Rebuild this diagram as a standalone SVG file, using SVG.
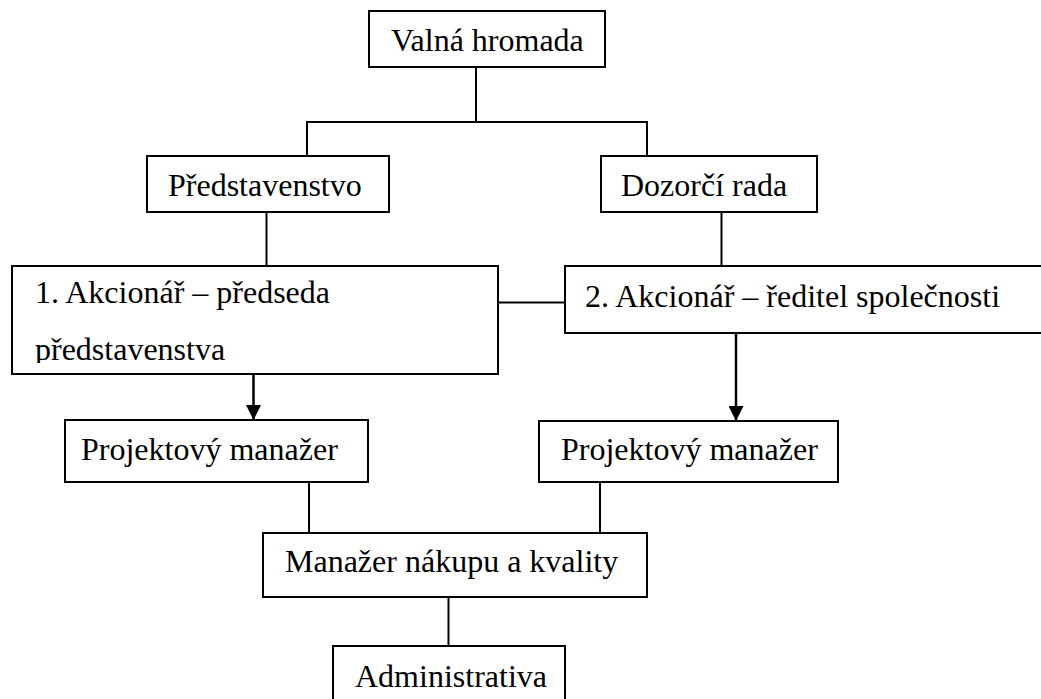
<svg xmlns="http://www.w3.org/2000/svg" width="1041" height="699" viewBox="0 0 1041 699">
<style>
.box{fill:#fff;stroke:#000;stroke-width:2}
.t{font-family:"Liberation Serif","Times New Roman",serif;font-size:32px;fill:#000}
.ln{stroke:#000;stroke-width:2;fill:none}
.ar{stroke:#000;stroke-width:2.5;fill:none}
</style>
<defs>
<marker id="arrow" markerWidth="6" markerHeight="6" refX="5.6" refY="3" orient="auto" markerUnits="strokeWidth" viewBox="0 0 6 6">
<path d="M0,0 L6,3 L0,6 Z" fill="#000"/>
</marker>
<clipPath id="clip1"><rect x="12" y="266" width="486" height="97"/></clipPath>
</defs>
<g id="connectors">
<line class="ln" x1="476" y1="67" x2="476" y2="122"/>
<polyline class="ln" points="307,156 307,122 647,122 647,156"/>
<line class="ln" x1="266.5" y1="212" x2="266.5" y2="266"/>
<line class="ln" x1="721.5" y1="212" x2="721.5" y2="266"/>
<line class="ln" x1="498" y1="302.5" x2="565" y2="302.5"/>
<line class="ar" x1="253.5" y1="374" x2="253.5" y2="419" marker-end="url(#arrow)"/>
<line class="ar" x1="736" y1="333" x2="736" y2="420" marker-end="url(#arrow)"/>
<line class="ln" x1="309" y1="482" x2="309" y2="533"/>
<line class="ln" x1="600" y1="482" x2="600" y2="533"/>
<line class="ln" x1="448.5" y1="597" x2="448.5" y2="646"/>
</g>
<g id="valna">
<rect class="box" x="369" y="11" width="236" height="56"/>
<text class="t" x="391" y="51">Valná hromada</text>
</g>
<g id="predstavenstvo">
<rect class="box" x="147" y="156" width="242" height="56"/>
<text class="t" x="168" y="196">Představenstvo</text>
</g>
<g id="dozorci">
<rect class="box" x="601" y="156" width="216" height="56"/>
<text class="t" x="621" y="196">Dozorčí rada</text>
</g>
<g id="akcionar1">
<rect class="box" x="12" y="266" width="486" height="108"/>
<g clip-path="url(#clip1)">
<text class="t" x="35" y="303">1. Akcionář – předseda</text>
<text class="t" x="35" y="360">představenstva</text>
</g>
</g>
<g id="akcionar2">
<rect class="box" x="565" y="266" width="490" height="67"/>
<text class="t" x="585" y="307">2. Akcionář – ředitel společnosti</text>
</g>
<g id="projekt1">
<rect class="box" x="65" y="420" width="303" height="62"/>
<text class="t" x="81" y="460">Projektový manažer</text>
</g>
<g id="projekt2">
<rect class="box" x="539" y="421" width="299" height="61"/>
<text class="t" x="561" y="460">Projektový manažer</text>
</g>
<g id="manazer">
<rect class="box" x="263" y="533" width="384" height="64"/>
<text class="t" x="285" y="572">Manažer nákupu a kvality</text>
</g>
<g id="administrativa">
<rect class="box" x="333" y="646" width="232" height="70"/>
<text class="t" x="355" y="687">Administrativa</text>
</g>
</svg>
